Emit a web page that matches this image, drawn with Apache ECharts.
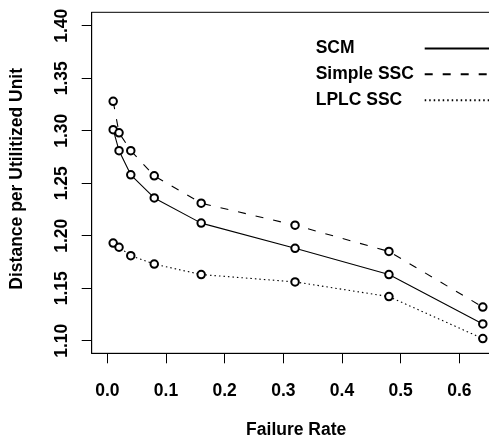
<!DOCTYPE html>
<html>
<head>
<meta charset="utf-8">
<script src="https://cdn.jsdelivr.net/npm/echarts@6/dist/echarts.min.js"></script>
<style>
  html, body { margin: 0; padding: 0; background: #fff; overflow: hidden; }
  /* wider than the window: the plot box runs past the right edge, as in the original */
  #chart { width: 520px; height: 437px; }
</style>
</head>
<body>
<div id="chart"></div>
<script>
const failureRate = [0.01, 0.02, 0.04, 0.08, 0.16, 0.32, 0.48, 0.64];
const scm = [1.301, 1.281, 1.258, 1.236, 1.212, 1.188, 1.163, 1.116];
const simpleSsc = [1.328, 1.298, 1.281, 1.257, 1.231, 1.210, 1.185, 1.132];
const lplcSsc = [1.193, 1.189, 1.181, 1.173, 1.163, 1.156, 1.142, 1.102];
const xTicks = [0, 0.1, 0.2, 0.3, 0.4, 0.5, 0.6];
const yTicks = [1.10, 1.15, 1.20, 1.25, 1.30, 1.35, 1.40];

const font = "'Liberation Sans', Arial, sans-serif";
const xMin = -0.0266, xMax = 0.6705;
const yMin = 1.088, yMax = 1.4128;
const pair = ys => failureRate.map((x, i) => [x, ys[i]]);

const makeSeries = (name, ys, type) => ({
  name: name,
  type: "line",
  data: pair(ys),
  symbol: "emptyCircle",
  symbolSize: 7.5,
  showSymbol: true,
  showAllSymbol: true,
  itemStyle: { color: "#000", borderColor: "#000", borderWidth: 1 },
  lineStyle: { color: "#000", width: 1.1, type: type },
  emphasis: { disabled: true }
});

const boldText = { fontFamily: font, fontWeight: "bold", fontSize: 17.5, color: "#000" };

// thin strips next to the box only carry the R-style outward ticks
const tickAxis = (gridIndex, min, max, values, position) => ({
  type: "value",
  gridIndex: gridIndex,
  min: min,
  max: max,
  position: position,
  axisLine: { show: false, onZero: false },
  splitLine: { show: false },
  axisLabel: { show: false },
  axisTick: {
    show: true,
    inside: true,
    length: 10,
    customValues: values,
    lineStyle: { color: "#000", width: 1 }
  }
});
const hiddenAxis = gridIndex => ({ type: "value", gridIndex: gridIndex, show: false });

const chart = echarts.init(document.getElementById("chart"));
chart.setOption({
  animation: false,
  textStyle: { fontFamily: font },
  grid: [
    {
      left: 91.7,
      top: 12.3,
      width: 409,
      height: 341,
      outerBoundsMode: "none",
      containLabel: false,
      show: true,
      borderColor: "#000",
      borderWidth: 1,
      backgroundColor: "transparent"
    },
    { left: 81.7, top: 12.3, width: 10, height: 341, outerBoundsMode: "none" },
    { left: 91.7, top: 353.3, width: 409, height: 10, outerBoundsMode: "none" }
  ],
  legend: {
    orient: "vertical",
    left: 310.7,
    top: 34.4,
    align: "right",
    itemWidth: 72,
    itemHeight: 14,
    itemGap: 7.9,
    selectedMode: false,
    data: ["SCM", "Simple SSC", "LPLC SSC"],
    itemStyle: { opacity: 0 },
    formatter: "{a|{name}}",
    textStyle: {
      rich: {
        a: Object.assign({ width: 104, align: "left" }, boldText)
      }
    }
  },
  xAxis: [
    {
      type: "value",
      min: xMin,
      max: xMax,
      name: "Failure Rate",
      nameLocation: "middle",
      nameGap: 68,
      nameMoveOverlap: false,
      nameTextStyle: boldText,
      axisLine: { show: true, onZero: false, lineStyle: { color: "#000", width: 1 } },
      splitLine: { show: false },
      axisTick: { show: false },
      axisLabel: Object.assign({
        customValues: xTicks,
        margin: 29,
        formatter: v => v.toFixed(1)
      }, boldText)
    },
    hiddenAxis(1),
    tickAxis(2, xMin, xMax, xTicks, "top")
  ],
  yAxis: [
    {
      type: "value",
      min: yMin,
      max: yMax,
      name: "Distance per Utilitized Unit",
      nameLocation: "middle",
      nameRotate: 90,
      nameGap: 66,
      nameMoveOverlap: false,
      nameTextStyle: Object.assign({ padding: [0, 0, 0, 8] }, boldText),
      axisLine: { show: true, onZero: false, lineStyle: { color: "#000", width: 1 } },
      splitLine: { show: false },
      axisTick: { show: false },
      axisLabel: Object.assign({
        customValues: yTicks,
        rotate: 90,
        margin: 21,
        formatter: v => v.toFixed(2)
      }, boldText)
    },
    tickAxis(1, yMin, yMax, yTicks, "left"),
    hiddenAxis(2)
  ],
  series: [
    makeSeries("SCM", scm, "solid"),
    makeSeries("Simple SSC", simpleSsc, [8, 10]),
    makeSeries("LPLC SSC", lplcSsc, [1.5, 3])
  ]
});
</script>
</body>
</html>
